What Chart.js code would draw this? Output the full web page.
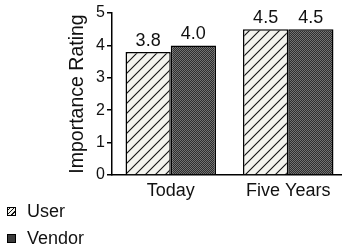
<!DOCTYPE html>
<html>
<head>
<meta charset="utf-8">
<script src="https://cdn.jsdelivr.net/npm/chart.js@4"></script>
<style>
  html, body { margin: 0; padding: 0; background: #fff; }
  #wrap { position: relative; width: 342px; height: 250px; overflow: hidden; }
  #legend { position: absolute; left: 7px; top: 198px; font: 18px "Liberation Sans", Arial, sans-serif; color: #111; }
  #legend div { height: 27px; display: flex; align-items: center; }
  #legend span.box { display: inline-block; width: 7px; height: 7px; border: 1px solid #000; margin-right: 11px; }
</style>
</head>
<body>
<div id="wrap">
  <canvas id="chart" width="342" height="250"></canvas>
  <div id="legend"></div>
</div>
<script>
const categories = ['Today', 'Five Years'];
const seriesNames = ['User', 'Vendor'];
const userValues = [3.8, 4.5];
const vendorValues = [4.0, 4.5];
const yTicks = [0, 1, 2, 3, 4, 5];

// hatched fill for User
const makeHatch = function () {
    const c = document.createElement('canvas');
    c.width = 10; c.height = 10;
    const g = c.getContext('2d');
    g.fillStyle = '#f3f3ee';
    g.fillRect(0, 0, 10, 10);
    g.strokeStyle = '#111';
    g.lineWidth = 1.1;
    g.beginPath();
    g.moveTo(-1, 11); g.lineTo(11, -1);
    g.moveTo(-6, 6); g.lineTo(6, -6);
    g.moveTo(4, 16); g.lineTo(16, 4);
    g.stroke();
    return c;
};

// stippled dark fill for Vendor
const makeStipple = function () {
    const c = document.createElement('canvas');
    c.width = 2; c.height = 2;
    const g = c.getContext('2d');
    g.fillStyle = '#2e2e2e';
    g.fillRect(0, 0, 2, 2);
    g.fillStyle = '#727272';
    g.fillRect(0, 0, 1, 1);
    g.fillRect(1, 1, 1, 1);
    return c;
};

const ctx = document.getElementById('chart').getContext('2d');
const hatch = ctx.createPattern(makeHatch(), 'repeat');
const stipple = ctx.createPattern(makeStipple(), 'repeat');

const fontFamily = '"Liberation Sans", Arial, sans-serif';

// the plot in the original runs a little past the right edge of the picture
const stretchRight = {
    id: 'stretchRight',
    afterLayout(chart) {
        const x = chart.scales.x;
        x.right += 5;
        x.width += 5;
        x.configure();
        chart.chartArea.right += 5;
        chart.chartArea.width += 5;
    }
};

const valueLabels = {
    id: 'valueLabels',
    afterDatasetsDraw(chart) {
        const c = chart.ctx;
        c.save();
        c.font = '18px ' + fontFamily;
        c.fillStyle = '#111';
        c.textAlign = 'center';
        c.textBaseline = 'alphabetic';
        chart.data.datasets.forEach((ds, i) => {
            chart.getDatasetMeta(i).data.forEach((bar, j) => {
                c.fillText(ds.data[j].toFixed(1), bar.x, bar.y - 6);
            });
        });
        c.restore();
    }
};

new Chart(ctx, {
    type: 'bar',
    data: {
        labels: categories,
        datasets: [
            { label: seriesNames[0], data: userValues, backgroundColor: hatch, borderColor: '#000', borderWidth: 1.5 },
            { label: seriesNames[1], data: vendorValues, backgroundColor: stipple, borderColor: '#000', borderWidth: 1.5 }
        ]
    },
    options: {
        responsive: false,
        animation: false,
        categoryPercentage: 0.77,
        barPercentage: 1.0,
        layout: { padding: { top: 13, left: 0, right: 0, bottom: 0 } },
        plugins: {
            legend: { display: false },
            tooltip: { enabled: false }
        },
        scales: {
            x: {
                grid: { display: false, drawTicks: false },
                border: { color: '#000', width: 1.5 },
                ticks: { color: '#111', font: { family: fontFamily, size: 18 }, padding: 5 },
                afterFit: s => { s.height = 75; }
            },
            y: {
                min: 0,
                max: 5,
                afterBuildTicks: s => { s.ticks = yTicks.map(v => ({ value: v })); },
                grid: { drawOnChartArea: false, drawTicks: true, tickLength: 5, color: '#000', lineWidth: 1.5 },
                border: { color: '#000', width: 1.5 },
                ticks: { color: '#111', font: { family: fontFamily, size: 16 }, padding: 2 },
                title: {
                    display: true,
                    text: 'Importance Rating',
                    color: '#111',
                    font: { family: fontFamily, size: 19.5 },
                    padding: { top: 66, bottom: 0 }
                },
                afterFit: s => { s.width = 112; }
            }
        }
    },
    plugins: [stretchRight, valueLabels]
});

// legend below the chart, vertical list like the original
const legend = document.getElementById('legend');
seriesNames.forEach((name, i) => {
    const row = document.createElement('div');
    const box = document.createElement('span');
    box.className = 'box';
    box.style.background = i === 0
        ? 'repeating-linear-gradient(-45deg, #f3f3ee 0 2px, #111 2px 3px)'
        : '#3a3a3a';
    row.appendChild(box);
    row.appendChild(document.createTextNode(name));
    legend.appendChild(row);
});
</script>
</body>
</html>
